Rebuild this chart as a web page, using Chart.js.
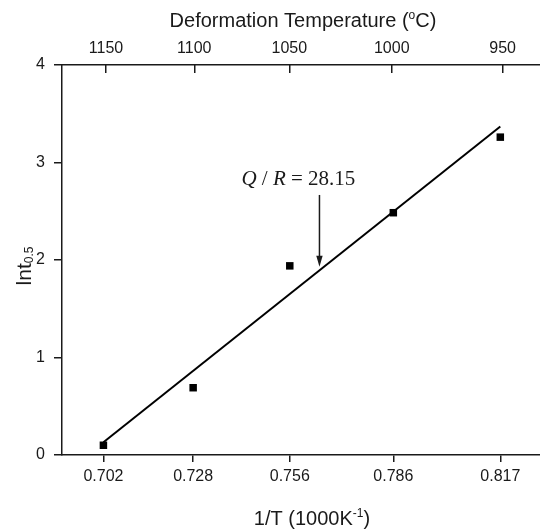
<!DOCTYPE html>
<html>
<head>
<meta charset="utf-8">
<script src="https://cdn.jsdelivr.net/npm/chart.js@4.4.0/dist/chart.umd.min.js"></script>
<style>
  html, body { margin: 0; padding: 0; background: #fff; }
  #wrap { width: 540px; height: 531px; }
</style>
</head>
<body>
<div id="wrap"><canvas id="myChart" width="540" height="531"></canvas></div>
<script>
// measured points (1/T in 1000/K, ln t0.5)
const invT = [0.702, 0.728, 0.756, 0.786, 0.817];
const lnT = [0.1, 0.69, 1.94, 2.485, 3.26];

// linear fit, slope Q/R = 28.15
const fitX = [0.702, 0.817];
const fitY = [0.13, 3.37];

// tick labels
const tempTicks = [1150, 1100, 1050, 1000, 950]; // deg C, top axis
const yTicks = [0, 1, 2, 3, 4];
const slopeText = "28.15";

const SANS = '"Liberation Sans", Arial, sans-serif';
const SERIF = '"Liberation Serif", "Times New Roman", serif';
const INK = "#1a1a1a";

// draws a row of text pieces (for sub/superscripts), centred on x
function drawRuns(ctx, runs, x, y) {
  let total = 0;
  runs.forEach((r) => {
    ctx.font = r.font;
    r.w = ctx.measureText(r.text).width;
    total += r.w;
  });
  let cx = x - total / 2;
  ctx.textAlign = "left";
  ctx.textBaseline = "alphabetic";
  runs.forEach((r) => {
    ctx.font = r.font;
    ctx.fillText(r.text, cx, y + (r.dy || 0));
    cx += r.w;
  });
}

const labelsPlugin = {
  id: "labels",
  afterDraw(chart) {
    const ctx = chart.ctx;
    const xs = chart.scales.x;
    const ys = chart.scales.y;
    ctx.save();
    ctx.fillStyle = INK;
    ctx.strokeStyle = INK;

    // top title
    drawRuns(ctx, [
      { text: "Deformation Temperature (", font: "20px " + SANS },
      { text: "o", font: "12px " + SANS, dy: -8 },
      { text: "C)", font: "20px " + SANS },
    ], 303, 27);

    // bottom title
    drawRuns(ctx, [
      { text: "1/T (1000K", font: "20px " + SANS },
      { text: "-1", font: "12px " + SANS, dy: -8 },
      { text: ")", font: "20px " + SANS },
    ], 312, 525);

    // y title, rotated
    ctx.save();
    ctx.translate(31, 266);
    ctx.rotate(-Math.PI / 2);
    drawRuns(ctx, [
      { text: "lnt", font: "21px " + SANS },
      { text: "0.5", font: "12px " + SANS, dy: 2 },
    ], 0, 0);
    ctx.restore();

    // Q/R annotation
    drawRuns(ctx, [
      { text: "Q", font: "italic 21px " + SERIF },
      { text: " / ", font: "21px " + SERIF },
      { text: "R", font: "italic 21px " + SERIF },
      { text: " = " + slopeText, font: "21px " + SERIF },
    ], xs.getPixelForValue(0.7585), ys.getPixelForValue(2.77));

    // arrow pointing at the fit line
    const ax = xs.getPixelForValue(0.7646);
    const ay0 = ys.getPixelForValue(2.667);
    const ay1 = ys.getPixelForValue(1.93);
    ctx.lineWidth = 1.5;
    ctx.beginPath();
    ctx.moveTo(ax, ay0);
    ctx.lineTo(ax, ay1 - 8);
    ctx.stroke();
    ctx.beginPath();
    ctx.moveTo(ax - 3.2, ay1 - 11);
    ctx.lineTo(ax + 3.2, ay1 - 11);
    ctx.lineTo(ax, ay1);
    ctx.closePath();
    ctx.fill();

    ctx.restore();
  },
};

const tickFont = { family: SANS, size: 16 };
const axisGrid = (len) => ({
  drawOnChartArea: false,
  drawTicks: true,
  tickLength: len,
  color: INK,
  lineWidth: 1.5,
});
const axisBorder = { color: INK, width: 1.5 };

const ctx = document.getElementById("myChart").getContext("2d");
new Chart(ctx, {
  type: "scatter",
  data: {
    datasets: [
      {
        label: "fit",
        data: fitX.map((x, i) => ({ x: x, y: fitY[i] })),
        showLine: true,
        borderColor: "#000",
        borderWidth: 2,
        pointRadius: 0,
        order: 2,
      },
      {
        label: "data",
        data: invT.map((x, i) => ({ x: x, y: lnT[i] })),
        pointStyle: "rect",
        pointRadius: 5.3,
        backgroundColor: "#000",
        borderWidth: 0,
        order: 1,
      },
    ],
  },
  options: {
    responsive: false,
    animation: false,
    devicePixelRatio: 1,
    layout: { padding: 0, autoPadding: false },
    plugins: {
      legend: { display: false },
      tooltip: { enabled: false },
    },
    scales: {
      x: {
        type: "linear",
        position: "bottom",
        min: 0.69,
        max: 0.8285,
        afterBuildTicks: (scale) => {
          scale.ticks = invT.map((v) => ({ value: v }));
        },
        afterFit: (scale) => {
          scale.height = 76;
        },
        ticks: {
          autoSkip: false,
          maxRotation: 0,
          font: tickFont,
          color: INK,
          padding: 5,
          callback: (value) => value.toFixed(3),
        },
        grid: axisGrid(7),
        border: axisBorder,
      },
      x2: {
        type: "linear",
        position: "top",
        min: 0.69,
        max: 0.8285,
        afterBuildTicks: (scale) => {
          scale.ticks = tempTicks.map((t) => ({ value: 1000 / (t + 273) }));
        },
        afterFit: (scale) => {
          scale.height = 65;
        },
        ticks: {
          autoSkip: false,
          maxRotation: 0,
          font: tickFont,
          color: INK,
          padding: 15,
          callback: (value, index) => tempTicks[index],
        },
        grid: axisGrid(-8),
        border: axisBorder,
      },
      y: {
        type: "linear",
        min: 0,
        max: 4,
        afterBuildTicks: (scale) => {
          scale.ticks = yTicks.map((v) => ({ value: v }));
        },
        afterFit: (scale) => {
          scale.width = 62;
        },
        ticks: {
          font: tickFont,
          color: INK,
          padding: 9,
        },
        grid: axisGrid(8),
        border: axisBorder,
      },
    },
  },
  plugins: [labelsPlugin],
});
</script>
</body>
</html>
